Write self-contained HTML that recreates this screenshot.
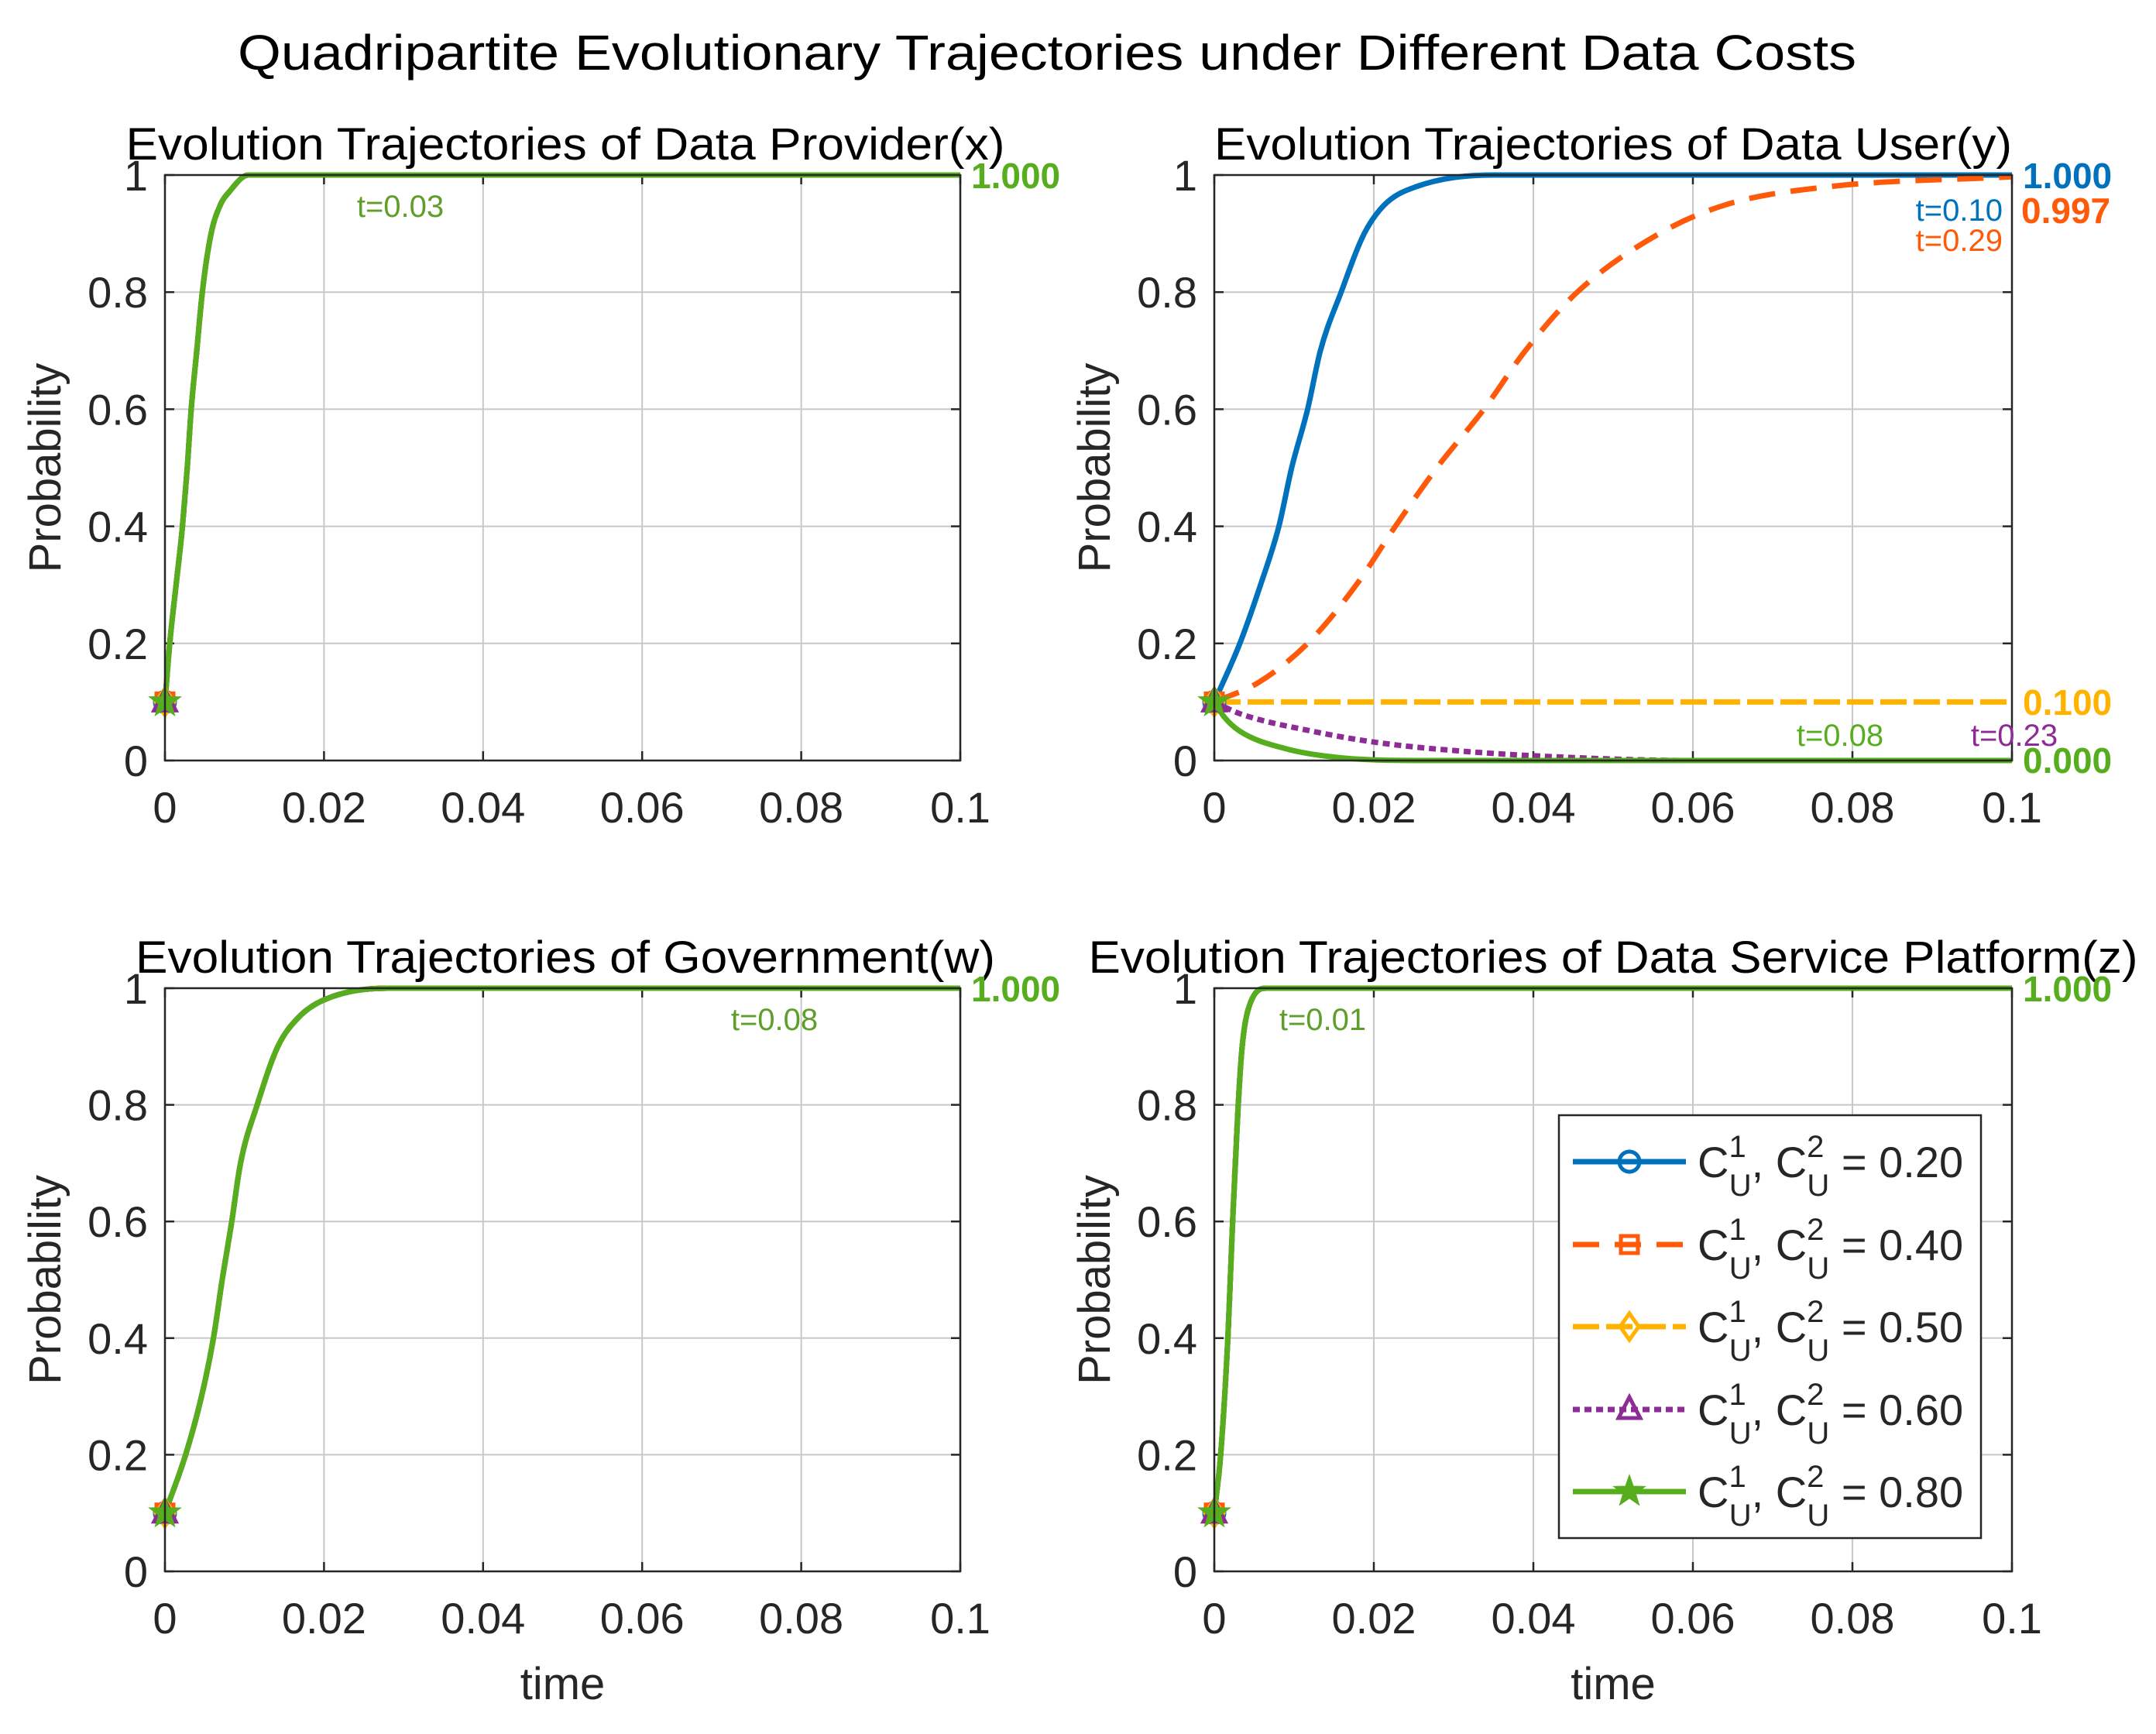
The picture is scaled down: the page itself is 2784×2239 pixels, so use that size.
<!DOCTYPE html>
<html><head><meta charset="utf-8"><style>
html,body{margin:0;padding:0;background:#fff;}
svg{display:block;font-family:"Liberation Sans",Arial,sans-serif;}
</style></head><body>
<svg id="fig" width="2784" height="2239" viewBox="0 0 2784 2239" xmlns="http://www.w3.org/2000/svg">
<text x="1352" y="90" font-size="64" text-anchor="middle" textLength="2090" lengthAdjust="spacingAndGlyphs">Quadripartite Evolutionary Trajectories under Different Data Costs</text>
</svg>
<script>
// ---- data ----
const xTicks = [0, 0.02, 0.04, 0.06, 0.08, 0.1];
const xTickLabels = ["0", "0.02", "0.04", "0.06", "0.08", "0.1"];
const yTicks = [0, 0.2, 0.4, 0.6, 0.8, 1];
const yTickLabels = ["0", "0.2", "0.4", "0.6", "0.8", "1"];
const seriesNames = ["0.20", "0.40", "0.50", "0.60", "0.80"];
// Panel x (Data Provider)
const provT = [0, 0.0006, 0.0014, 0.0022, 0.0028, 0.0033, 0.004, 0.0047, 0.0058, 0.007, 0.008, 0.0105, 0.015, 0.1];
const provV = [0.1, 0.2, 0.3, 0.4, 0.5, 0.6, 0.7, 0.8, 0.9, 0.95, 0.97, 1, 1, 1];
// Panel y (Data User)
const userT1 = [0, 0.0032, 0.0058, 0.0081, 0.0097, 0.0117, 0.0133, 0.0159, 0.0188, 0.0214, 0.0253, 0.035, 0.1];
const userV1 = [0.1, 0.2, 0.3, 0.4, 0.5, 0.6, 0.7, 0.8, 0.9, 0.95, 0.98, 1, 1];
const userT2 = [0, 0.0055, 0.0117, 0.0178, 0.0227, 0.0279, 0.0338, 0.039, 0.0455, 0.0558, 0.0643, 0.077, 0.1];
const userV2 = [0.1, 0.133, 0.2, 0.3, 0.4, 0.5, 0.6, 0.7, 0.8, 0.9, 0.95, 0.98, 0.997];
const userT3 = [0, 0.1];
const userV3 = [0.1, 0.1];
const userT4 = [0, 0.0032, 0.0123, 0.0208, 0.032, 0.045, 0.06, 0.1];
const userV4 = [0.1, 0.08, 0.05, 0.03, 0.015, 0.005, 0, 0];
const userT5 = [0, 0.0012, 0.0032, 0.009, 0.0156, 0.025, 0.1];
const userV5 = [0.1, 0.075, 0.05, 0.02, 0.005, 0, 0];
// Panel w (Government)
const govT = [0, 0.0026, 0.0046, 0.0061, 0.0072, 0.0084, 0.0095, 0.0116, 0.0142, 0.0168, 0.02, 0.028, 0.1];
const govV = [0.1, 0.2, 0.3, 0.4, 0.5, 0.6, 0.7, 0.8, 0.9, 0.95, 0.98, 1, 1];
// Panel z (Platform)
const platT = [0, 0.0008, 0.0017, 0.0023, 0.003, 0.0035, 0.0044, 0.0066, 0.1];
const platV = [0.1, 0.2, 0.4, 0.6, 0.8, 0.9, 0.97, 1, 1];

const colors = ["#0072BD", "#FF5A0A", "#FFB300", "#8E2C96", "#56AD1E"];
const dashes = ["", "34 20", "34 9", "9 6", ""];
const markers = ["circle", "square", "diamond", "triangle", "star"];
const NS = "http://www.w3.org/2000/svg";
const svg = document.getElementById("fig");

function mk(tag, attrs, parent) {
  const e = document.createElementNS(NS, tag);
  for (const k in attrs) e.setAttribute(k, attrs[k]);
  (parent || svg).appendChild(e);
  return e;
}
function txt(s, attrs, parent) { const e = mk("text", attrs, parent); e.textContent = s; return e; }

// monotone cubic path through pixel points
function smoothPath(px, py) {
  const n = px.length;
  if (n < 3) return px.map((x, k) => (k ? "L" : "M") + x.toFixed(1) + "," + py[k].toFixed(1)).join("");
  const d = [], m = [];
  for (let i = 0; i < n - 1; i++) d.push((py[i+1] - py[i]) / (px[i+1] - px[i]));
  m.push(d[0]);
  for (let i = 1; i < n - 1; i++) m.push(d[i-1] * d[i] <= 0 ? 0 : (d[i-1] + d[i]) / 2);
  m.push(d[n-2]);
  for (let i = 0; i < n - 1; i++) {
    if (d[i] === 0) { m[i] = 0; m[i+1] = 0; continue; }
    const a = m[i] / d[i], b = m[i+1] / d[i], s = a*a + b*b;
    if (s > 9) { const t = 3 / Math.sqrt(s); m[i] = t*a*d[i]; m[i+1] = t*b*d[i]; }
  }
  let p = "M" + px[0].toFixed(1) + "," + py[0].toFixed(1);
  for (let i = 0; i < n - 1; i++) {
    const h = (px[i+1] - px[i]) / 3;
    p += "C" + (px[i]+h).toFixed(1) + "," + (py[i]+m[i]*h).toFixed(1) + " " + (px[i+1]-h).toFixed(1) + "," + (py[i+1]-m[i+1]*h).toFixed(1) + " " + px[i+1].toFixed(1) + "," + py[i+1].toFixed(1);
  }
  return p;
}

function markerShape(kind, cx, cy, color, g) {
  const r = 13;
  let e;
  if (kind === "circle") e = mk("circle", {cx: cx, cy: cy, r: r, fill: "none", stroke: color, "stroke-width": 5}, g);
  else if (kind === "square") e = mk("rect", {x: cx - 11, y: cy - 11, width: 22, height: 22, fill: "none", stroke: color, "stroke-width": 5}, g);
  else if (kind === "diamond") e = mk("polygon", {points: `${cx},${cy-17} ${cx+12},${cy} ${cx},${cy+17} ${cx-12},${cy}`, fill: "none", stroke: color, "stroke-width": 5}, g);
  else if (kind === "triangle") e = mk("polygon", {points: `${cx},${cy-16} ${cx+14},${cy+11} ${cx-14},${cy+11}`, fill: "none", stroke: color, "stroke-width": 5}, g);
  else {
    let p = [];
    for (let i = 0; i < 10; i++) { const a = -Math.PI/2 + i*Math.PI/5; const rr = i%2 ? 8 : 20; p.push((cx+rr*Math.cos(a)).toFixed(1)+","+(cy+rr*Math.sin(a)).toFixed(1)); }
    e = mk("polygon", {points: p.join(" "), fill: color, stroke: color, "stroke-width": 2}, g);
  }
  
  
}

function panel(opt) {
  const L = opt.L, R = opt.R, T = opt.T, B = opt.B;
  const g = mk("g", {});
  
  
  const sx = v => L + (v - 0) / 0.1 * (R - L);
  const sy = v => B - v * (B - T);
  xTicks.forEach((t, i) => {
    if (i > 0 && i < xTicks.length - 1) { const l = mk("line", {x1: sx(t), x2: sx(t), y1: T, y2: B, stroke: "#c8c8c8", "stroke-width": 2}, g);   }
  });
  yTicks.forEach((t, i) => {
    if (i > 0 && i < yTicks.length - 1) { const l = mk("line", {x1: L, x2: R, y1: sy(t), y2: sy(t), stroke: "#c8c8c8", "stroke-width": 2}, g);   }
  });
  xTicks.forEach((t, i) => {
    mk("line", {x1: sx(t), x2: sx(t), y1: B, y2: B - 12, stroke: "#262626", "stroke-width": 2.5}, g);
    mk("line", {x1: sx(t), x2: sx(t), y1: T, y2: T + 12, stroke: "#262626", "stroke-width": 2.5}, g);
    const tl = txt(xTickLabels[i], {x: sx(t), y: B + 80, "font-size": 56, "text-anchor": "middle", fill: "#262626"}, g);
    
    
  });
  yTicks.forEach((t, i) => {
    mk("line", {x1: L, x2: L + 12, y1: sy(t), y2: sy(t), stroke: "#262626", "stroke-width": 2.5}, g);
    mk("line", {x1: R, x2: R - 12, y1: sy(t), y2: sy(t), stroke: "#262626", "stroke-width": 2.5}, g);
    const tl = txt(yTickLabels[i], {x: L - 22, y: sy(t) + 20, "font-size": 56, "text-anchor": "end", fill: "#262626"}, g);
    
    
  });
  opt.series.forEach((s, i) => {
    const d = smoothPath(s.t.map(sx), s.v.map(sy));
    const a = {d: d, fill: "none", stroke: colors[i], "stroke-width": 7, "stroke-linejoin": "round"};
    if (dashes[i]) a["stroke-dasharray"] = dashes[i];
    const p = mk("path", a, g);
    
    
  });
  opt.series.forEach((s, i) => markerShape(markers[i], sx(s.t[0]), sy(s.v[0]), colors[i], g));
  const box = mk("rect", {x: L, y: T, width: R - L, height: B - T, fill: "none", stroke: "#262626", "stroke-width": 2.5}, g);
  
  
  const ti = txt(opt.title, {x: opt.titleX, y: T - 20, "font-size": 58, "text-anchor": "middle", textLength: opt.titleW, lengthAdjust: "spacingAndGlyphs"}, g);
  
  
  const yl = txt("Probability", {x: 0, y: 0, "font-size": 58, "text-anchor": "middle", transform: `translate(${L - 135},${(T + B) / 2}) rotate(-90)`, fill: "#262626"}, g);
  
  
  if (opt.xlabel) {
    const xl = txt("time", {x: (L + R) / 2, y: B + 165, "font-size": 58, "text-anchor": "middle", fill: "#262626"}, g);
    
    
  }
  opt.labels.forEach(lb => {
    const e = txt(lb.s, {x: lb.x, y: lb.y, "font-size": lb.bold ? 46 : 40, "font-weight": lb.bold ? "bold" : "normal", fill: lb.c, "text-anchor": lb.a || "start"}, g);
    
    
  });
  return {sx, sy};
}

const G = colors[4];
const same = (T, V) => [0,1,2,3,4].map(() => ({t: T, v: V}));

panel({name: "panel-data-provider", L: 213, R: 1240, T: 226, B: 982, title: "Evolution Trajectories of Data Provider(x)", titleX: 730, titleW: 1135, xlabel: false,
  series: same(provT, provV),
  labels: [{s: "1.000", x: 1254, y: 243, c: G, bold: true}, {s: "t=0.03", x: 517, y: 280, c: "#5E9E2A", a: "middle"}]});

panel({name: "panel-data-user", L: 1568, R: 2598, T: 226, B: 982, title: "Evolution Trajectories of Data User(y)", titleX: 2083, titleW: 1030, xlabel: false,
  series: [{t: userT1, v: userV1}, {t: userT2, v: userV2}, {t: userT3, v: userV3}, {t: userT4, v: userV4}, {t: userT5, v: userV5}],
  labels: [
    {s: "1.000", x: 2612, y: 243, c: colors[0], bold: true},
    {s: "0.997", x: 2610, y: 288, c: colors[1], bold: true},
    {s: "t=0.10", x: 2586, y: 285, c: colors[0], a: "end"},
    {s: "t=0.29", x: 2586, y: 324, c: colors[1], a: "end"},
    {s: "0.100", x: 2612, y: 923, c: colors[2], bold: true},
    {s: "0.000", x: 2612, y: 998, c: G, bold: true},
    {s: "t=0.08", x: 2376, y: 963, c: G, a: "middle"},
    {s: "t=0.23", x: 2601, y: 963, c: colors[3], a: "middle"}]});

panel({name: "panel-government", L: 213, R: 1240, T: 1276, B: 2029, title: "Evolution Trajectories of Government(w)", titleX: 730, titleW: 1110, xlabel: true,
  series: same(govT, govV),
  labels: [{s: "1.000", x: 1254, y: 1293, c: G, bold: true}, {s: "t=0.08", x: 1000, y: 1330, c: "#5E9E2A", a: "middle"}]});

panel({name: "panel-data-service-platform", L: 1568, R: 2598, T: 1276, B: 2029, title: "Evolution Trajectories of Data Service Platform(z)", titleX: 2083, titleW: 1355, xlabel: true,
  series: same(platT, platV),
  labels: [{s: "1.000", x: 2612, y: 1293, c: G, bold: true}, {s: "t=0.01", x: 1708, y: 1330, c: "#5E9E2A", a: "middle"}]});

// legend
const lg = mk("g", {});


const lb = mk("rect", {x: 2013, y: 1440, width: 545, height: 546, fill: "#fff", stroke: "#262626", "stroke-width": 2.5}, lg);


const rowY = [1500, 1607, 1713, 1820, 1926];
seriesNames.forEach((n, i) => {
  const y = rowY[i];
  const eg = mk("g", {}, lg);
  
  
  const a = {x1: 2031, x2: 2177, y1: y, y2: y, stroke: colors[i], "stroke-width": 7};
  if (dashes[i]) a["stroke-dasharray"] = dashes[i];
  mk("line", a, eg);
  markerShape(markers[i], 2104, y, colors[i], eg);
  const t = mk("text", {x: 2192, y: y + 20, "font-size": 56, fill: "#262626"}, eg);
  t.innerHTML = 'C<tspan font-size="40" dy="-26">1</tspan><tspan font-size="40" dx="-22" dy="50">U</tspan><tspan dy="-24">,   C</tspan><tspan font-size="40" dy="-26">2</tspan><tspan font-size="40" dx="-22" dy="50">U</tspan><tspan dy="-24"> = ' + n + '</tspan>';
  
  
});
</script>
</body></html>
